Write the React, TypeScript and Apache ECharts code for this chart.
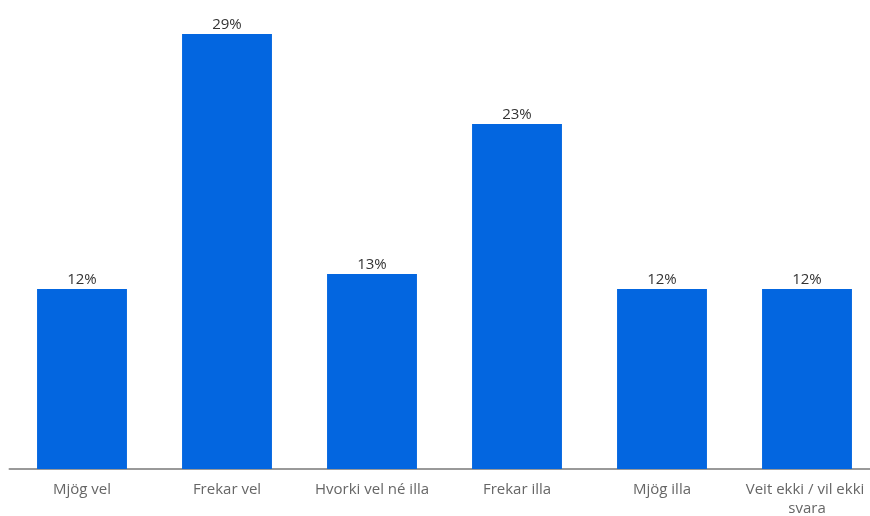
import React, { useEffect, useRef } from "react";
import * as echarts from "echarts";

const categories = ["Mjög vel", "Frekar vel", "Hvorki vel né illa", "Frekar illa", "Mjög illa", "Veit ekki / vil ekki svara"];
const values = [12, 29, 13, 23, 12, 12];

export default function App() {
  const ref = useRef<HTMLDivElement>(null);
  useEffect(() => {
    const chart = echarts.init(ref.current!, null, { renderer: "svg" });
    chart.setOption({
      animation: false,
      grid: { left: 9.5, width: 870, top: 19, bottom: 47, outerBoundsMode: "none", containLabel: false },
      xAxis: {
        type: "category",
        data: categories,
        axisLine: { lineStyle: { color: "#999", width: 2 } },
        axisTick: { show: false },
        axisLabel: {
          interval: 0,
          color: "#666",
          fontSize: 15,
          fontFamily: "Open Sans",
          margin: 9,
          width: 140,
          overflow: "break",
          lineHeight: 19,
        },
      },
      yAxis: {
        type: "value",
        min: 0,
        max: 30,
        show: false,
        splitLine: { show: false },
      },
      series: [
        {
          type: "bar",
          data: values,
          barWidth: "62%",
          itemStyle: { color: "#0366E0" },
          label: {
            show: true,
            position: "top",
            distance: 4,
            formatter: "{c}%",
            color: "#333",
            fontSize: 15,
            fontFamily: "Open Sans",
          },
        },
      ],
    });
    return () => chart.dispose();
  }, []);
  return (
    <div
      ref={ref}
      style={{ position: "fixed", left: 0, top: 0, width: 870, height: 516, overflow: "hidden" }}
    />
  );
}
